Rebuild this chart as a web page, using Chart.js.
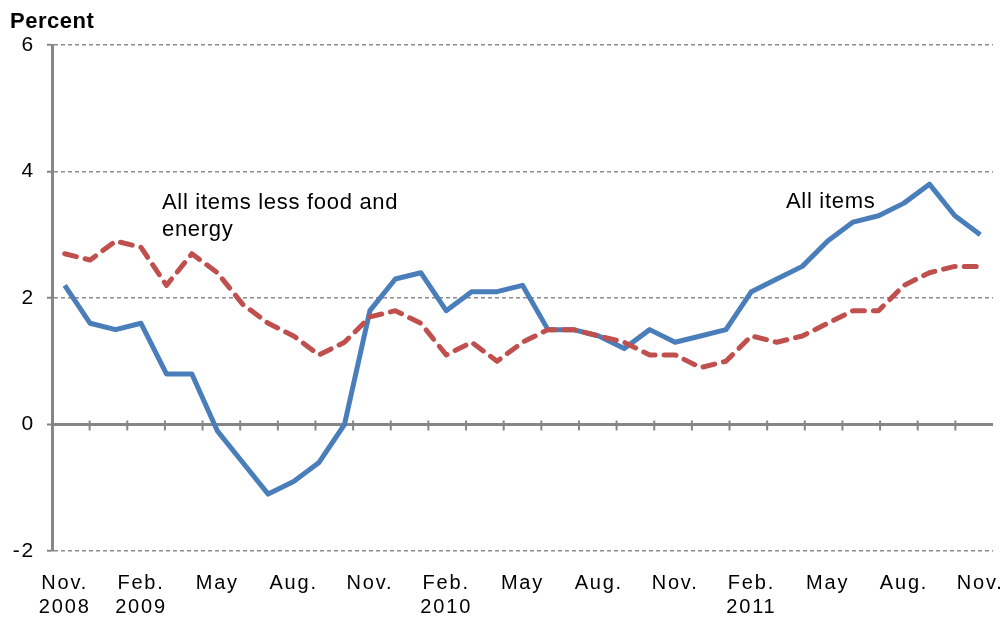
<!DOCTYPE html>
<html>
<head>
<meta charset="utf-8">
<script src="https://cdn.jsdelivr.net/npm/chart.js@4.4.0/dist/chart.umd.min.js"></script>
<style>
  html, body { margin: 0; padding: 0; background: #fff; }
  #wrap { width: 1008px; height: 617px; }
</style>
</head>
<body>
<div id="wrap"><canvas id="chart-cpi" width="1008" height="617"></canvas></div>
<script>
// monthly categories, Nov. 2008 - Nov. 2011
const mois = [
  'Nov. 2008', 'Dec. 2008', 'Jan. 2009', 'Feb. 2009', 'Mar. 2009', 'Apr. 2009', 'May 2009',
  'Jun. 2009', 'Jul. 2009', 'Aug. 2009', 'Sep. 2009', 'Oct. 2009', 'Nov. 2009', 'Dec. 2009',
  'Jan. 2010', 'Feb. 2010', 'Mar. 2010', 'Apr. 2010', 'May 2010', 'Jun. 2010', 'Jul. 2010',
  'Aug. 2010', 'Sep. 2010', 'Oct. 2010', 'Nov. 2010', 'Dec. 2010', 'Jan. 2011', 'Feb. 2011',
  'Mar. 2011', 'Apr. 2011', 'May 2011', 'Jun. 2011', 'Jul. 2011', 'Aug. 2011', 'Sep. 2011',
  'Oct. 2011', 'Nov. 2011'
];

const allItems = [2.2, 1.6, 1.5, 1.6, 0.8, 0.8, -0.1, -0.6, -1.1, -0.9, -0.6, 0.0, 1.8, 2.3, 2.4, 1.8, 2.1, 2.1, 2.2,
  1.5, 1.5, 1.4, 1.2, 1.5, 1.3, 1.4, 1.5, 2.1, 2.3, 2.5, 2.9, 3.2, 3.3, 3.5, 3.8, 3.3, 3.0];

const lessFoodEnergy = [2.7, 2.6, 2.9, 2.8, 2.2, 2.7, 2.4, 1.9, 1.6, 1.4, 1.1, 1.3, 1.7, 1.8, 1.6, 1.1, 1.3, 1.0, 1.3,
  1.5, 1.5, 1.4, 1.3, 1.1, 1.1, 0.9, 1.0, 1.4, 1.3, 1.4, 1.6, 1.8, 1.8, 2.2, 2.4, 2.5, 2.5];

// one label every third month
const xTickLabels = [
  ['Nov.', '2008'], ['Feb.', '2009'], 'May', 'Aug.', 'Nov.', ['Feb.', '2010'], 'May', 'Aug.',
  'Nov.', ['Feb.', '2011'], 'May', 'Aug.', 'Nov.'
];
const yTicks = [-2, 0, 2, 4, 6];

const police = 'Arial, "Liberation Sans", sans-serif';
const gris = '#868686';
const espacement = '1.8px';

// zero line tick marks + text labels
const decorPlugin = {
  id: 'decor',
  beforeUpdate(chart) { chart.ctx.letterSpacing = espacement; },
  beforeDraw(chart) { chart.ctx.letterSpacing = espacement; },
  beforeDatasetsDraw(chart) {
    const { ctx, scales } = chart;
    const y0 = scales.y.getPixelForValue(0);
    const n = mois.length;
    ctx.save();
    ctx.strokeStyle = gris;
    ctx.lineWidth = 2;
    for (let k = 1; k < 25; k++) {
      const x = scales.x.getPixelForValue(-0.5 + k * n / 25);
      ctx.beginPath();
      ctx.moveTo(x, y0 - 4);
      ctx.lineTo(x, y0 + 6);
      ctx.stroke();
    }
    ctx.restore();
  },
  afterDraw(chart) {
    const { ctx } = chart;
    ctx.save();
    ctx.fillStyle = '#000';
    ctx.textBaseline = 'alphabetic';
    ctx.letterSpacing = '0.5px';
    ctx.font = 'bold 22px ' + police;
    ctx.fillText('Percent', 10, 28);
    ctx.letterSpacing = '0.7px';
    ctx.font = '22px ' + police;
    ctx.fillText('All items less food and', 162, 209);
    ctx.fillText('energy', 162, 236);
    ctx.fillText('All items', 786, 208);
    ctx.restore();
  }
};

const ctx = document.getElementById('chart-cpi').getContext('2d');
new Chart(ctx, {
  type: 'line',
  data: {
    labels: mois,
    datasets: [{
      label: 'All items less food and energy',
      data: lessFoodEnergy,
      borderColor: '#c0504d',
      borderWidth: 5,
      borderDash: [12, 9],
      borderCapStyle: 'round',
      borderJoinStyle: 'round',
      pointRadius: 0,
      tension: 0
    }, {
      label: 'All items',
      data: allItems,
      borderColor: '#4a7ebb',
      borderWidth: 5,
      borderJoinStyle: 'round',
      pointRadius: 0,
      tension: 0
    }]
  },
  options: {
    responsive: false,
    animation: false,
    devicePixelRatio: 1,
    layout: { padding: { top: 45, right: 15, left: 0, bottom: 0 } },
    plugins: { legend: { display: false }, tooltip: { enabled: false } },
    scales: {
      x: {
        offset: true,
        grid: { display: false },
        border: { display: false },
        ticks: {
          autoSkip: false,
          maxRotation: 0,
          color: '#000',
          padding: 12,
          font: { family: police, size: 20, lineHeight: 1.22 },
          callback: (v, i) => (i % 3 === 0 ? xTickLabels[i / 3] : '')
        },
        afterFit(s) {
          s.height = 66;
          s.paddingLeft = 0;
          s.paddingRight = 0;
        }
      },
      y: {
        min: -2,
        max: 6,
        afterBuildTicks(s) { s.ticks = yTicks.map(v => ({ value: v })); },
        ticks: {
          color: '#000',
          padding: 12,
          font: { family: police, size: 21 }
        },
        grid: {
          color: c => (c.tick && c.tick.value === 0 ? gris : '#8c8c8c'),
          lineWidth: c => (c.tick && c.tick.value === 0 ? 3 : 1.5),
          tickLength: 5,
          tickColor: gris,
          tickWidth: 2,
          tickBorderDash: []
        },
        border: {
          display: true,
          color: gris,
          width: 3,
          dash: c => (c.tick && c.tick.value === 0 ? [] : [4, 3])
        },
        afterFit(s) { s.width = 52; }
      }
    }
  },
  plugins: [decorPlugin]
});
</script>
</body>
</html>
